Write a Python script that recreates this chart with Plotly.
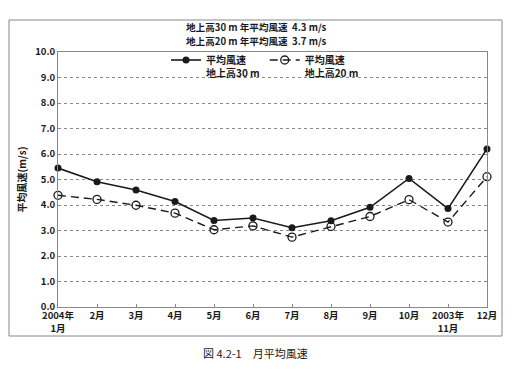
import plotly.graph_objects as go

months = ["2004年<br>1月", "2月", "3月", "4月", "5月", "6月", "7月", "8月", "9月", "10月", "2003年<br>11月", "12月"]
speed_30m = [5.45, 4.91, 4.59, 4.14, 3.39, 3.49, 3.11, 3.38, 3.91, 5.04, 3.86, 6.20]
speed_20m = [4.38, 4.22, 3.99, 3.68, 3.03, 3.18, 2.74, 3.16, 3.55, 4.21, 3.33, 5.11]
name_30m = "平均風速<br>地上高30 m"
name_20m = "平均風速<br>地上高20 m"
y_ticks = [0, 1, 2, 3, 4, 5, 6, 7, 8, 9, 10]
header_30m = "地上高30 m 年平均風速  4.3 m/s"
header_20m = "地上高20 m 年平均風速  3.7 m/s"
caption = "図 4.2-1　月平均風速"
y_title = "平均風速(m/s)"

FONT = "Noto Sans CJK JP"
INK = "#1a1a1a"

fig = go.Figure()
fig.add_trace(go.Scatter(
    x=months, y=speed_30m, name=name_30m, mode="lines+markers",
    line=dict(color=INK, width=1.6),
    marker=dict(symbol="circle", size=7, color=INK),
    cliponaxis=False,
))
fig.add_trace(go.Scatter(
    x=months, y=speed_20m, name=name_20m, mode="lines+markers",
    line=dict(color=INK, width=1.4, dash="8px,5px"),
    marker=dict(symbol="circle-open", size=8, color=INK, line=dict(width=1.3)),
    cliponaxis=False,
))

W, H = 520, 374
L, R, T, B = 58, 487, 52, 307
def px(x):
    return (x - L) / (R - L)
def py(y):
    return (B - y) / (B - T)

fig.update_layout(
    width=W, height=H,
    margin=dict(l=L, r=W - R, t=T, b=H - B),
    paper_bgcolor="white", plot_bgcolor="white",
    font=dict(family=FONT, size=10, color=INK),
    showlegend=True,
    legend=dict(
        orientation="h", x=px(166), y=py(47), xanchor="left", yanchor="top",
        bgcolor="rgba(0,0,0,0)", valign="top",
        font=dict(family=FONT, size=10, color=INK, weight="bold"),
        itemwidth=30, tracegroupgap=0,
    ),
    xaxis=dict(
        type="category", range=[0, 11],
        showline=True, linecolor="#888", linewidth=1, mirror=True,
        ticks="inside", ticklen=3, tickcolor="#888",
        showgrid=False, zeroline=False,
        tickfont=dict(family=FONT, size=9.5, color=INK, weight="bold"),
    ),
    yaxis=dict(
        range=[0, 10], tickvals=y_ticks, tickformat=".1f",
        showline=True, linecolor="#888", linewidth=1, mirror=True,
        ticks="", showgrid=True, gridcolor="#888", griddash="3px,3px", gridwidth=1,
        zeroline=False,
        tickfont=dict(family=FONT, size=9.5, color=INK, weight="bold"),
        title=dict(text=y_title, font=dict(family=FONT, size=10, color=INK, weight="bold"), standoff=6),
    ),
    shapes=[
        dict(type="rect", xref="paper", yref="paper",
             x0=px(9), x1=px(502), y0=py(336), y1=py(20),
             line=dict(color="#888", width=1), layer="below"),
    ],
    annotations=[
        dict(text=header_30m, xref="paper", yref="paper", x=px(256), y=py(27.5),
             xanchor="center", yanchor="middle", showarrow=False, borderpad=0,
             font=dict(family=FONT, size=9.6, color=INK, weight="bold")),
        dict(text=header_20m, xref="paper", yref="paper", x=px(256), y=py(41),
             xanchor="center", yanchor="middle", showarrow=False, borderpad=0,
             font=dict(family=FONT, size=9.6, color=INK, weight="bold")),
        dict(text=caption, xref="paper", yref="paper", x=px(255), y=py(353),
             xanchor="center", yanchor="middle", showarrow=False,
             font=dict(family=FONT, size=11, color=INK)),
    ],
)

fig.write_html("out.html", config={"displayModeBar": False},
               post_script="document.body.style.margin='0';")
